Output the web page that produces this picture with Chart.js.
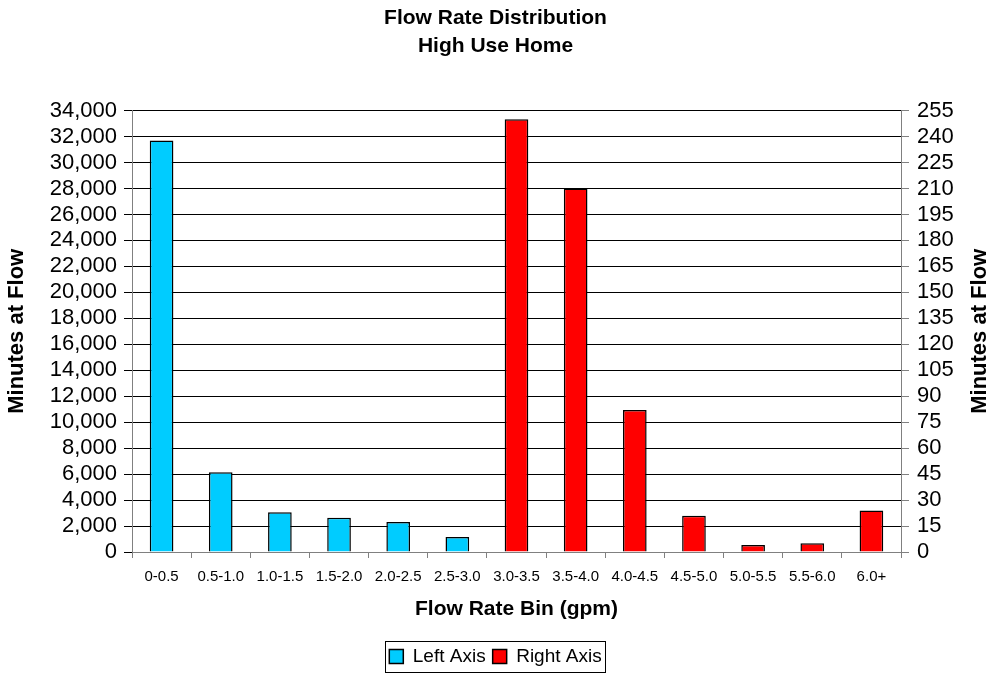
<!DOCTYPE html>
<html>
<head>
<meta charset="utf-8">
<script src="https://cdn.jsdelivr.net/npm/chart.js@4"></script>
<style>
  html, body { margin: 0; padding: 0; background: #fff; }
  #wrap { width: 991px; height: 677px; }
</style>
</head>
<body>
<div id="wrap"><canvas id="flowChart" width="991" height="677"></canvas></div>
<script>
// Flow rate bins (gpm)
const bins = ['0-0.5', '0.5-1.0', '1.0-1.5', '1.5-2.0', '2.0-2.5', '2.5-3.0',
              '3.0-3.5', '3.5-4.0', '4.0-4.5', '4.5-5.0', '5.0-5.5', '5.5-6.0', '6.0+'];

// Minutes at flow, read against the left axis
const leftAxisMinutes = [31700, 6150, 3060, 2630, 2320, 1150,
                         null, null, null, null, null, null, null];

// Minutes at flow, read against the right axis
const rightAxisMinutes = [null, null, null, null, null, null,
                          250, 210, 82, 21, 4, 5, 24];

const leftMax = 34000, leftStep = 2000;
const rightMax = 255, rightStep = 15;
const axisTitle = 'Minutes at Flow';

// frame round the legend, and the right axis title reading bottom-to-top like the left one
const extras = {
    id: 'extras',
    afterDraw(chart) {
        const c = chart.ctx;
        const boxes = chart.legend.legendHitBoxes;
        if (boxes && boxes.length) {
            const x0 = Math.min(...boxes.map(b => b.left)) - 4;
            const x1 = Math.max(...boxes.map(b => b.left + b.width)) + 4;
            const y0 = Math.min(...boxes.map(b => b.top)) - 6;
            const y1 = Math.max(...boxes.map(b => b.top + b.height)) + 6;
            c.save();
            c.strokeStyle = '#000';
            c.lineWidth = 1;
            c.strokeRect(Math.round(x0) + 0.5, Math.round(y0) + 0.5, Math.round(x1 - x0), Math.round(y1 - y0));
            c.restore();
        }
        const area = chart.chartArea;
        c.save();
        c.translate(980, (area.top + area.bottom) / 2);
        c.rotate(-Math.PI / 2);
        c.font = 'bold 22px Arial, "Liberation Sans", sans-serif';
        c.fillStyle = '#000';
        c.textAlign = 'center';
        c.textBaseline = 'middle';
        c.fillText(axisTitle, 0, 0);
        c.restore();
    }
};

Chart.defaults.font.family = 'Arial, "Liberation Sans", sans-serif';
Chart.defaults.color = '#000';

const ctx = document.getElementById('flowChart').getContext('2d');
new Chart(ctx, {
    type: 'bar',
    data: {
        labels: bins,
        datasets: [{
            label: 'Left Axis',
            data: leftAxisMinutes,
            yAxisID: 'y',
            backgroundColor: '#00ccff',
            borderColor: '#000',
            borderWidth: 1.5,
            barPercentage: 0.4,
            categoryPercentage: 1
        }, {
            label: 'Right Axis',
            data: rightAxisMinutes,
            yAxisID: 'y1',
            backgroundColor: '#ff0000',
            borderColor: '#000',
            borderWidth: 1.5,
            barPercentage: 0.4,
            categoryPercentage: 1
        }]
    },
    options: {
        responsive: false,
        animation: false,
        skipNull: true,
        layout: { padding: { left: 0, right: 0, top: 0, bottom: 1 } },
        scales: {
            x: {
                grid: {
                    offset: true,
                    drawOnChartArea: false,
                    color: '#808080',
                    tickLength: 6
                },
                border: { color: '#808080', width: 1 },
                ticks: { font: { size: 15 }, padding: 10, maxRotation: 0, autoSkip: false },
                title: {
                    display: true,
                    text: 'Flow Rate Bin (gpm)',
                    font: { size: 21, weight: 'bold' },
                    padding: { top: 0, bottom: 18 }
                },
                afterFit(scale) { scale.height = 88; }
            },
            y: {
                position: 'left',
                min: 0,
                max: leftMax,
                grid: { color: '#000', tickLength: 8, lineWidth: 1 },
                border: { color: '#808080', width: 1 },
                ticks: { stepSize: leftStep, font: { size: 22 }, padding: 7, autoSkip: false },
                title: {
                    display: true,
                    text: axisTitle,
                    font: { size: 22, weight: 'bold' },
                    padding: { top: 4, bottom: 0 }
                },
                afterFit(scale) { scale.width = 132; }
            },
            y1: {
                position: 'right',
                min: 0,
                max: rightMax,
                grid: { drawOnChartArea: false, color: '#808080', tickLength: 8 },
                border: { color: '#808080', width: 1 },
                ticks: { stepSize: rightStep, font: { size: 22 }, padding: 8, autoSkip: false },
                title: { display: false },
                afterFit(scale) { scale.width = 90; }
            }
        },
        plugins: {
            title: {
                display: true,
                text: ['Flow Rate Distribution', 'High Use Home'],
                font: { size: 21, weight: 'bold', lineHeight: 1.3 },
                padding: { top: 5, bottom: 51 }
            },
            legend: {
                position: 'bottom',
                labels: {
                    font: { size: 19 },
                    boxWidth: 14,
                    boxHeight: 14,
                    padding: 7,
                    color: '#000'
                }
            },
            tooltip: { enabled: false }
        }
    },
    plugins: [extras]
});
</script>
</body>
</html>
